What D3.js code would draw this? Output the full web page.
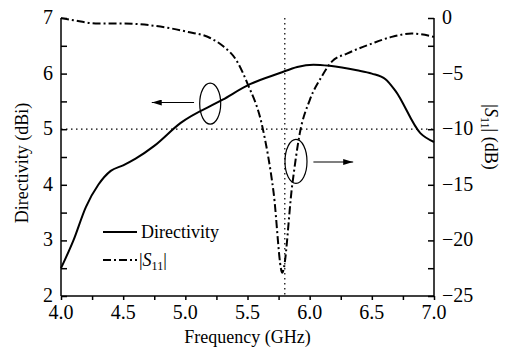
<!DOCTYPE html>
<html>
<head>
<meta charset="utf-8">
<script src="https://cdn.jsdelivr.net/npm/d3@7/dist/d3.min.js"></script>
<style>
  body { margin: 0; background: #fff; }
  svg { display: block; }
  svg text { font-family: "Liberation Serif", "DejaVu Serif", "Times New Roman", serif; }
</style>
</head>
<body>
<svg id="chart" width="509" height="349"></svg>
<script>
// frequency (GHz) and directivity (dBi)
const dirFreq = [4.0, 4.1, 4.2, 4.3, 4.4, 4.5, 4.6, 4.75, 4.96, 5.3, 5.52, 5.76, 5.9, 6.03, 6.16, 6.38, 6.5, 6.61, 6.69, 6.89, 7.0];
const dirVals = [2.5, 3.0, 3.6, 4.0, 4.25, 4.35, 4.47, 4.7, 5.11, 5.53, 5.81, 6.01, 6.12, 6.16, 6.14, 6.06, 6.0, 5.9, 5.69, 4.93, 4.77];

// frequency (GHz) and |S11| (dB)
const s11Freq = [4.0, 4.1, 4.3, 4.5, 4.75, 5.0, 5.2, 5.3, 5.41, 5.5, 5.62, 5.71, 5.78, 5.86, 5.92, 6.0, 6.1, 6.18, 6.3, 6.5, 6.66, 6.82, 7.0];
const s11Vals = [0, -0.2, -0.5, -0.5, -0.7, -1.2, -1.8, -2.5, -3.8, -5.9, -9.8, -15.7, -22.9, -15.0, -10.4, -7.4, -5.2, -3.9, -3.2, -2.3, -1.7, -1.4, -1.7];

const xTicks = [4.0, 4.5, 5.0, 5.5, 6.0, 6.5, 7.0];
const yLeftTicks = [2, 3, 4, 5, 6, 7];
const yRightTicks = [0, -5, -10, -15, -20, -25];

const svg = d3.select("#chart");
const mLeft = 61, mRight = 434, mTop = 18, mBottom = 296;

const x = d3.scaleLinear().domain([4, 7]).range([mLeft, mRight]);
const yL = d3.scaleLinear().domain([2, 7]).range([mBottom, mTop]);
const yR = d3.scaleLinear().domain([-25, 0]).range([mBottom, mTop]);

// reference lines
svg.append("line")
  .attr("x1", mLeft).attr("x2", mRight)
  .attr("y1", yL(5)).attr("y2", yL(5))
  .attr("stroke", "#000").attr("stroke-width", 1.2).attr("stroke-dasharray", "1.5,3.5");
svg.append("line")
  .attr("x1", x(5.8)).attr("x2", x(5.8))
  .attr("y1", mTop).attr("y2", mBottom)
  .attr("stroke", "#000").attr("stroke-width", 1.2).attr("stroke-dasharray", "1.5,3.5");

// axes
const bottomAxis = svg.append("g")
  .attr("transform", "translate(0," + mBottom + ")")
  .call(d3.axisBottom(x).tickValues(d3.range(4, 7.01, 0.25)).tickSize(4).tickFormat(""));
bottomAxis.select(".domain").attr("d", "M" + mLeft + ",0H" + mRight);

const leftAxis = svg.append("g")
  .attr("transform", "translate(" + mLeft + ",0)")
  .call(d3.axisLeft(yL).tickValues(d3.range(2, 7.01, 0.5)).tickSize(-6).tickFormat(""));
leftAxis.select(".domain").attr("d", "M0," + mTop + "V" + mBottom);

const rightAxis = svg.append("g")
  .attr("transform", "translate(" + mRight + ",0)")
  .call(d3.axisRight(yR).tickValues(d3.range(-25, 0.01, 2.5)).tickSize(-6).tickFormat(""));
rightAxis.select(".domain").attr("d", "M0," + mTop + "V" + mBottom);

svg.selectAll(".domain, .tick line").attr("stroke", "#000").attr("stroke-width", 1.5);

// tick labels
svg.append("g").selectAll("text").data(xTicks).join("text")
  .attr("x", d => x(d)).attr("y", 319)
  .attr("text-anchor", "middle").attr("font-size", 20)
  .text(d => d.toFixed(1));
svg.append("g").selectAll("text").data(yLeftTicks).join("text")
  .attr("x", 53).attr("y", d => yL(d) + 6)
  .attr("text-anchor", "end").attr("font-size", 20)
  .text(d => d);
svg.append("g").selectAll("text").data(yRightTicks).join("text")
  .attr("x", 442).attr("y", d => yR(d) + 6)
  .attr("text-anchor", "start").attr("font-size", 20)
  .text(d => d === 0 ? "0" : "\u2212" + Math.abs(d));

// axis titles
svg.append("text")
  .attr("x", (mLeft + mRight) / 2).attr("y", 343)
  .attr("text-anchor", "middle").attr("font-size", 18)
  .text("Frequency (GHz)");
svg.append("text")
  .attr("transform", "translate(28,163) rotate(-90)")
  .attr("text-anchor", "middle").attr("font-size", 18)
  .text("Directivity (dBi)");
const rTitle = svg.append("text")
  .attr("transform", "translate(485,137) rotate(90)")
  .attr("text-anchor", "middle").attr("font-size", 18);
rTitle.append("tspan").text("|");
rTitle.append("tspan").attr("font-style", "italic").text("S");
rTitle.append("tspan").attr("font-size", 12).attr("dy", 4).text("11");
rTitle.append("tspan").attr("dy", -4).text("| (dB)");

// curves
const dirLine = d3.line().x(d => x(d[0])).y(d => yL(d[1])).curve(d3.curveMonotoneX);
const s11Line = d3.line().x(d => x(d[0])).y(d => yR(d[1])).curve(d3.curveMonotoneX);

svg.append("path")
  .datum(d3.zip(dirFreq, dirVals))
  .attr("d", dirLine)
  .attr("fill", "none").attr("stroke", "#000").attr("stroke-width", 2);
svg.append("path")
  .datum(d3.zip(s11Freq, s11Vals))
  .attr("d", s11Line)
  .attr("fill", "none").attr("stroke", "#000").attr("stroke-width", 2)
  .attr("stroke-dasharray", "8,3,2,3");

// annotations: ellipses and arrows
svg.append("defs").append("marker")
  .attr("id", "arrow").attr("viewBox", "0 0 10 6")
  .attr("refX", 10).attr("refY", 3)
  .attr("markerWidth", 10).attr("markerHeight", 6)
  .attr("markerUnits", "userSpaceOnUse").attr("orient", "auto")
  .append("path").attr("d", "M0,0L10,3L0,6Z").attr("fill", "#000");

svg.append("ellipse")
  .attr("cx", x(5.2)).attr("cy", yL(5.46)).attr("rx", 10.5).attr("ry", 20.5)
  .attr("fill", "none").attr("stroke", "#000").attr("stroke-width", 1.2);
svg.append("line")
  .attr("x1", x(5.07)).attr("y1", yL(5.48)).attr("x2", x(4.73)).attr("y2", yL(5.48))
  .attr("stroke", "#000").attr("stroke-width", 1.2).attr("marker-end", "url(#arrow)");

svg.append("ellipse")
  .attr("cx", x(5.89)).attr("cy", yR(-12.9)).attr("rx", 11).attr("ry", 22)
  .attr("fill", "none").attr("stroke", "#000").attr("stroke-width", 1.2);
svg.append("line")
  .attr("x1", x(6.03)).attr("y1", yR(-12.95)).attr("x2", x(6.35)).attr("y2", yR(-12.95))
  .attr("stroke", "#000").attr("stroke-width", 1.2).attr("marker-end", "url(#arrow)");

// legend
const legend = svg.append("g");
legend.append("line").attr("x1", 103).attr("x2", 137).attr("y1", 232).attr("y2", 232)
  .attr("stroke", "#000").attr("stroke-width", 2);
legend.append("text").attr("x", 141).attr("y", 238).attr("font-size", 18).text("Directivity");
legend.append("line").attr("x1", 103).attr("x2", 137).attr("y1", 260).attr("y2", 260)
  .attr("stroke", "#000").attr("stroke-width", 2).attr("stroke-dasharray", "8,3,2,3");
const lt = legend.append("text").attr("x", 139).attr("y", 266).attr("font-size", 18);
lt.append("tspan").text("|");
lt.append("tspan").attr("font-style", "italic").text("S");
lt.append("tspan").attr("font-size", 12).attr("dy", 4).text("11");
lt.append("tspan").attr("dy", -4).text("|");
</script>
</body>
</html>
